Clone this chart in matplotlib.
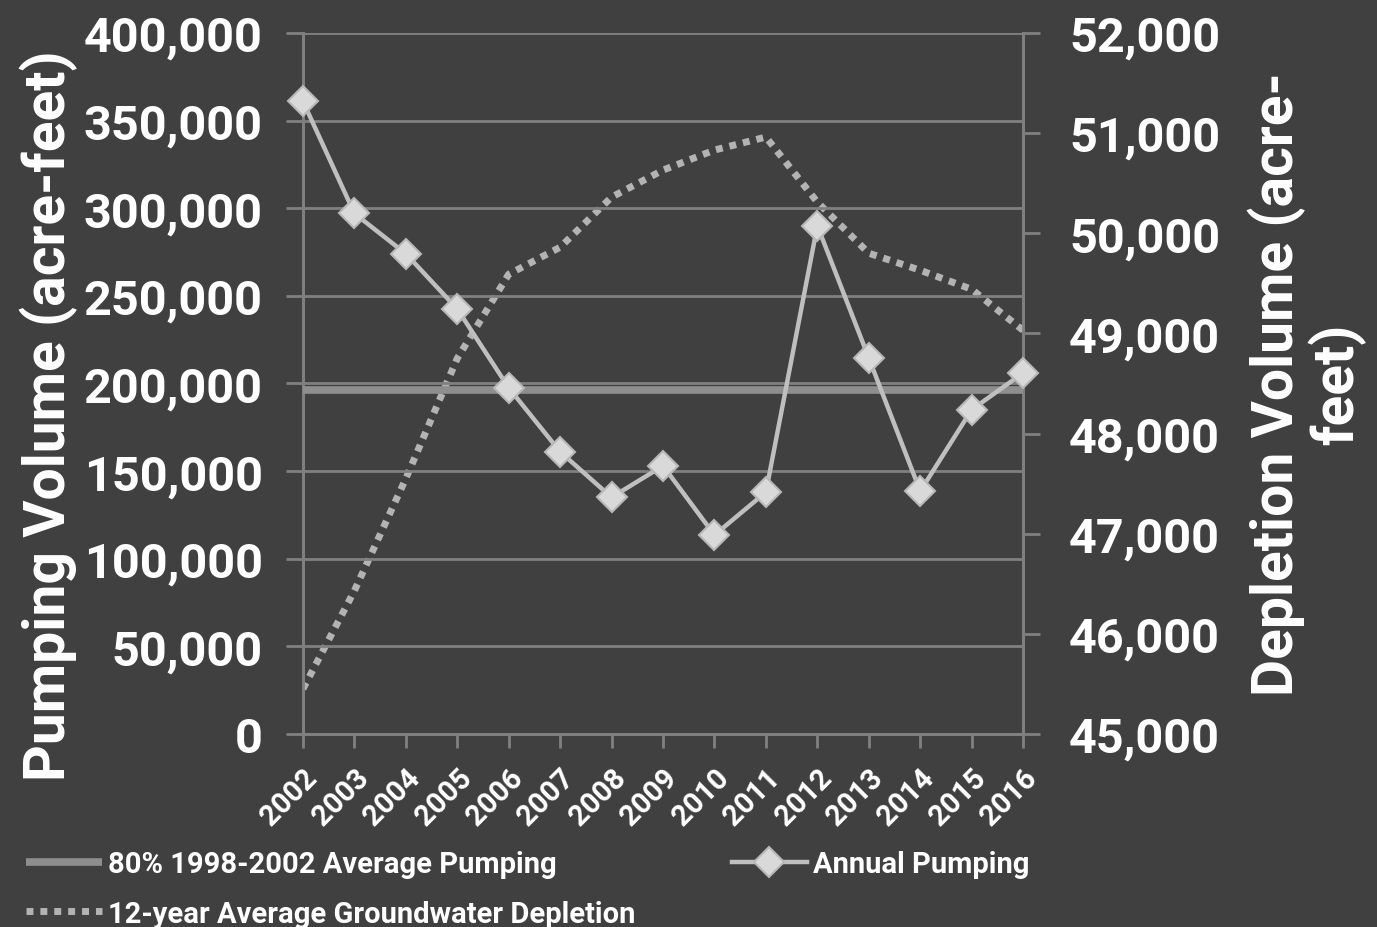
import numpy as np
import matplotlib.pyplot as plt
from matplotlib.ticker import FuncFormatter, MultipleLocator

plt.rcParams['font.family'] = ['Roboto', 'DejaVu Sans']
plt.rcParams['font.weight'] = 'bold'

# data
years = list(range(2002, 2017))
annual_pumping = [361000, 297000, 274000, 242500, 197500, 161000, 135000, 153000,
                  113500, 138000, 290000, 214500, 138500, 185000, 206000]
avg_pumping = 196000
depletion = [45450, 46430, 47550, 48750, 49590, 49860, 50360, 50630,
             50830, 50960, 50310, 49800, 49630, 49440, 49030]

bg = '#404040'
grid_c = '#808080'

fig = plt.figure(figsize=(13.77, 9.28), dpi=100, facecolor=bg)
ax = fig.add_axes([0.22, 0.208, 0.523, 0.7555])
ax.set_facecolor(bg)
ax2 = ax.twinx()

comma = FuncFormatter(lambda v, p: f'{int(v):,}')

# left axis
ax.set_xlim(2002, 2016)
ax.set_ylim(0, 400000)
ax.yaxis.set_major_locator(MultipleLocator(50000))
ax.yaxis.set_major_formatter(comma)
ax.set_xticks(years)
ax.set_xticklabels([str(y) for y in years], rotation=45, ha='right',
                   rotation_mode='anchor', fontsize=21, color='white', fontweight='bold')
ax.grid(axis='y', color=grid_c, linewidth=2)
ax.set_axisbelow(True)

l_avg, = ax.plot(years, [avg_pumping] * len(years), color='#8e8e8e', linewidth=5.5,
                 solid_capstyle='butt', label='80% 1998-2002 Average Pumping', zorder=3)
l_ann, = ax.plot(years, annual_pumping, color='#bfbfbf', linewidth=3.2, marker='D',
                 markersize=15, markerfacecolor='#d9d9d9', markeredgecolor='#b8b8b8',
                 markeredgewidth=1.5, label='Annual Pumping', zorder=5, clip_on=False)

# right axis
ax2.set_ylim(45000, 52000)
ax2.yaxis.set_major_locator(MultipleLocator(1000))
ax2.yaxis.set_major_formatter(comma)
l_dep, = ax2.plot(years, depletion, color='#b3b3b3', linewidth=5, linestyle=(0, (1, 1)),
                  label='12-year Average Groundwater Depletion', zorder=4)
ax.set_zorder(ax2.get_zorder() + 1)
ax.patch.set_visible(False)
ax2.set_facecolor(bg)

for a in (ax, ax2):
    for s in a.spines.values():
        s.set_color(grid_c)
        s.set_linewidth(2)
    a.spines['top'].set_visible(False)
    a.tick_params(colors=grid_c, width=2, length=12, labelcolor='white')

ax.tick_params(axis='y', labelsize=35, pad=17)
ax.tick_params(axis='x', length=10, pad=11)
ax2.tick_params(axis='y', labelsize=35, pad=21)
for lab in ax.get_yticklabels() + ax2.get_yticklabels():
    lab.set_fontweight('bold')

ax.set_ylabel('Pumping Volume (acre-feet)', fontsize=41, color='white', fontweight='bold')
ax.yaxis.set_label_coords(-0.312, 0.456)
ax2.set_ylabel('Depletion Volume (acre-\nfeet)', fontsize=41, color='white',
               fontweight='bold', rotation=90, linespacing=1.05, multialignment='center')
ax2.yaxis.set_label_coords(1.312, 0.5)

fig.legend(handles=[l_avg, l_dep, l_ann], loc='lower left', bbox_to_anchor=(0.0, -0.029),
           ncol=2, frameon=False, labelcolor='white', handlelength=2.6,
           handletextpad=0.2, columnspacing=3.3, labelspacing=0.75,
           prop={'weight': 'bold', 'size': 21})

fig.savefig('out.png', dpi=100, facecolor=bg)
